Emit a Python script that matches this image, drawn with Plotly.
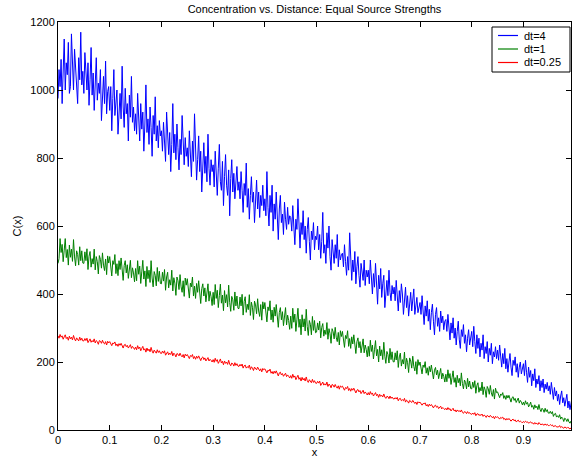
import plotly.graph_objects as go

# Sampling grid along x (shared by all three runs)
x_start = 0.0
x_step = 0.002

# Concentration profiles C(x) for three time steps
c_dt4 = [
    975, 1060, 1010, 1090, 960, 1035, 1150, 1000, 1080, 1045, 1140, 990, 1010, 1165, 1060, 1000, 1120, 1070, 1005, 960, 1095, 1030, 1170, 1015, 1055,
    990, 1110, 1040, 1000, 1080, 955, 1030, 1125, 985, 1050, 940, 1010, 1095, 970, 1020, 990, 1060, 910, 1000, 1040, 960, 1085, 930, 995, 1010,
    940, 1010, 880, 975, 1060, 925, 960, 1000, 870, 945, 990, 915, 1070, 950, 890, 1005, 930, 960, 850, 985, 920, 1040, 905, 950, 880,
    930, 870, 990, 905, 850, 960, 885, 935, 820, 900, 1015, 875, 915, 840, 950, 890, 805, 925, 870, 980, 850, 895, 830, 910, 865,
    880, 820, 905, 860, 790, 935, 845, 810, 875, 760, 840, 960, 815, 870, 795, 900, 830, 765, 855, 810, 925, 840, 780, 860, 805,
    830, 775, 880, 800, 745, 850, 790, 930, 810, 735, 795, 865, 760, 820, 700, 790, 845, 755, 805, 730, 870, 770, 720, 795, 760,
    780, 715, 820, 750, 690, 770, 840, 730, 705, 790, 660, 745, 810, 720, 690, 765, 630, 740, 795, 700, 755, 680, 735, 775, 705,
    730, 680, 760, 705, 640, 725, 690, 785, 655, 710, 620, 690, 745, 670, 700, 610, 680, 735, 650, 700, 625, 690, 660, 720, 645,
    680, 630, 760, 655, 600, 690, 640, 720, 585, 665, 620, 700, 640, 560, 650, 690, 610, 635, 575, 670, 620, 590, 655, 605, 630,
    625, 585, 660, 600, 545, 620, 590, 680, 570, 535, 610, 575, 645, 560, 600, 520, 590, 625, 555, 500, 585, 560, 610, 530, 570,
    560, 600, 530, 575, 505, 555, 640, 520, 545, 490, 580, 535, 600, 510, 470, 560, 525, 490, 545, 505, 575, 480, 530, 500, 515,
    520, 480, 545, 495, 455, 510, 470, 580, 490, 440, 500, 465, 525, 430, 480, 510, 455, 420, 490, 465, 440, 500, 425, 470, 450,
    470, 430, 500, 445, 400, 460, 420, 490, 440, 370, 455, 415, 475, 390, 430, 455, 360, 420, 440, 395, 470, 405, 380, 425, 400,
    420, 380, 440, 395, 350, 410, 375, 430, 400, 340, 390, 420, 360, 395, 335, 380, 405, 350, 375, 415, 340, 370, 390, 345, 365,
    375, 340, 395, 350, 310, 365, 335, 380, 320, 355, 295, 345, 370, 320, 280, 340, 360, 305, 330, 290, 350, 315, 335, 295, 320,
    325, 290, 340, 305, 265, 315, 285, 330, 270, 300, 250, 290, 320, 265, 240, 295, 275, 310, 255, 280, 230, 270, 295, 250, 265,
    290, 245, 305, 260, 225, 280, 240, 270, 215, 255, 235, 280, 210, 245, 225, 260, 200, 240, 220, 255, 195, 230, 215, 245, 210,
    235, 205, 250, 215, 185, 225, 195, 240, 180, 210, 170, 200, 225, 185, 160, 205, 190, 215, 170, 195, 155, 185, 200, 165, 180,
    195, 160, 205, 170, 140, 185, 155, 175, 130, 165, 145, 180, 125, 150, 135, 160, 115, 145, 125, 150, 110, 135, 120, 140, 115,
    130, 105, 140, 110, 90, 125, 100, 115, 85, 105, 75, 100, 115, 80, 95, 70, 90, 105, 65, 85, 60, 80, 95, 65, 75,
]

c_dt1 = [
    490, 504, 563, 522, 546, 495, 529, 563, 507, 531, 485, 544, 508, 532, 496, 560, 509, 483, 527, 516, 485, 539, 498, 527, 491,
    490, 524, 498, 533, 472, 511, 525, 479, 504, 488, 532, 471, 510, 495, 459, 513, 502, 476, 521, 485, 469, 503, 457, 512, 491,
    510, 474, 453, 498, 487, 516, 460, 489, 454, 498, 472, 506, 460, 440, 484, 498, 462, 486, 446, 475, 499, 448, 477, 462, 436,
    475, 439, 498, 458, 482, 431, 465, 499, 444, 468, 422, 481, 445, 470, 434, 498, 447, 421, 466, 455, 424, 478, 437, 467, 431,
    430, 464, 438, 472, 411, 450, 464, 418, 442, 426, 470, 409, 448, 432, 396, 450, 439, 413, 457, 421, 405, 439, 393, 447, 426,
    445, 409, 388, 432, 421, 450, 394, 423, 387, 431, 405, 439, 393, 372, 416, 430, 394, 418, 377, 406, 430, 379, 408, 392, 366,
    405, 369, 428, 387, 411, 360, 395, 429, 373, 397, 351, 410, 374, 398, 362, 426, 375, 349, 393, 383, 352, 406, 365, 394, 358,
    357, 391, 365, 399, 338, 378, 392, 346, 370, 354, 398, 337, 376, 361, 325, 379, 368, 342, 386, 350, 334, 369, 323, 377, 356,
    375, 339, 318, 362, 351, 380, 324, 353, 317, 361, 335, 369, 323, 302, 346, 360, 324, 348, 307, 336, 360, 309, 338, 322, 296,
    335, 299, 358, 317, 341, 290, 324, 358, 302, 326, 280, 339, 303, 327, 291, 355, 304, 278, 322, 311, 280, 334, 293, 322, 286,
    288, 315, 294, 320, 271, 302, 313, 276, 294, 281, 316, 267, 298, 284, 255, 298, 289, 268, 302, 273, 260, 287, 250, 292, 275,
    290, 261, 243, 278, 269, 292, 246, 269, 240, 274, 253, 280, 243, 225, 260, 271, 242, 260, 227, 250, 268, 227, 250, 237, 215,
    246, 217, 264, 231, 250, 209, 236, 263, 218, 237, 200, 247, 218, 236, 207, 258, 217, 196, 231, 222, 197, 240, 207, 230, 201,
    200, 227, 206, 233, 184, 215, 226, 188, 207, 194, 229, 180, 211, 198, 169, 212, 203, 182, 217, 187, 174, 201, 164, 207, 190,
    200, 178, 165, 191, 184, 201, 167, 183, 161, 187, 171, 191, 163, 150, 176, 184, 162, 176, 151, 167, 181, 150, 167, 157, 141,
    164, 142, 177, 152, 166, 134, 154, 174, 140, 154, 126, 161, 139, 152, 130, 168, 137, 121, 147, 140, 121, 152, 127, 144, 122,
    121, 141, 125, 145, 108, 131, 139, 111, 125, 115, 141, 104, 127, 118, 96, 128, 121, 105, 131, 109, 99, 119, 91, 123, 110,
    112, 101, 95, 106, 102, 110, 93, 101, 90, 102, 94, 102, 89, 82, 95, 98, 87, 93, 81, 88, 94, 79, 87, 82, 74,
    82, 73, 86, 76, 81, 68, 74, 82, 67, 72, 61, 74, 65, 70, 60, 75, 61, 54, 64, 60, 52, 64, 54, 60, 50,
    49, 55, 48, 54, 40, 47, 49, 38, 42, 37, 45, 32, 38, 34, 25, 35, 32, 25, 33, 24, 20, 26, 15, 25, 19,
]

c_dt025 = [
    277, 270, 281, 273, 277, 267, 274, 280, 269, 273, 264, 276, 268, 273, 265, 278, 268, 262, 271, 268, 262, 273, 264, 270, 262,
    262, 269, 263, 270, 257, 265, 268, 258, 263, 259, 268, 256, 263, 260, 252, 263, 261, 255, 264, 256, 253, 260, 250, 261, 256,
    260, 252, 248, 256, 254, 259, 248, 253, 246, 254, 249, 255, 246, 241, 250, 252, 245, 249, 241, 246, 251, 240, 246, 242, 237,
    244, 236, 248, 239, 244, 233, 240, 246, 235, 239, 229, 241, 233, 238, 230, 243, 232, 226, 235, 232, 226, 236, 228, 233, 226,
    225, 232, 226, 233, 220, 228, 230, 221, 226, 222, 231, 218, 226, 222, 215, 225, 223, 218, 226, 219, 215, 222, 212, 223, 218,
    222, 215, 210, 219, 216, 222, 210, 216, 208, 217, 211, 218, 208, 204, 212, 215, 207, 212, 203, 209, 213, 203, 208, 205, 200,
    207, 199, 211, 202, 207, 196, 202, 209, 197, 202, 192, 203, 196, 200, 193, 205, 194, 189, 197, 195, 188, 198, 190, 195, 188,
    187, 193, 188, 194, 182, 189, 191, 182, 186, 183, 191, 178, 186, 182, 175, 185, 182, 177, 185, 178, 174, 180, 171, 181, 177,
    180, 172, 168, 176, 173, 179, 167, 172, 165, 173, 167, 174, 164, 159, 168, 170, 162, 166, 158, 163, 167, 157, 162, 158, 153,
    160, 152, 164, 155, 159, 148, 155, 161, 149, 154, 144, 155, 147, 152, 144, 156, 145, 140, 148, 145, 139, 149, 140, 145, 138,
    137, 143, 138, 144, 131, 139, 141, 132, 136, 132, 141, 128, 135, 132, 124, 134, 132, 126, 134, 127, 123, 130, 120, 130, 126,
    129, 121, 117, 125, 122, 128, 116, 122, 114, 122, 117, 123, 113, 109, 117, 119, 112, 116, 107, 113, 117, 107, 112, 108, 103,
    110, 103, 113, 105, 109, 100, 105, 110, 101, 105, 96, 105, 99, 102, 97, 106, 97, 93, 99, 98, 92, 100, 93, 97, 92,
    91, 95, 91, 96, 86, 92, 93, 86, 89, 86, 93, 82, 88, 85, 79, 87, 85, 81, 87, 81, 78, 82, 75, 83, 80,
    82, 76, 73, 78, 77, 80, 71, 75, 69, 76, 71, 75, 69, 65, 71, 73, 67, 70, 63, 68, 70, 62, 66, 63, 60,
    64, 59, 66, 60, 63, 56, 60, 64, 56, 59, 53, 59, 55, 57, 53, 59, 52, 49, 54, 53, 48, 54, 49, 51, 47,
    46, 50, 46, 51, 42, 47, 48, 43, 45, 43, 47, 40, 44, 42, 37, 43, 41, 38, 43, 38, 36, 40, 33, 40, 37,
    39, 35, 32, 37, 35, 38, 31, 34, 29, 34, 30, 34, 28, 26, 30, 32, 27, 30, 24, 28, 29, 24, 26, 24, 21,
    25, 22, 26, 23, 24, 20, 22, 24, 20, 21, 17, 22, 18, 20, 16, 22, 18, 15, 18, 16, 14, 18, 14, 17, 13,
    13, 16, 13, 15, 10, 13, 13, 9, 10, 9, 13, 7, 10, 8, 5, 9, 8, 5, 8, 6, 3, 6, 2, 6, 3,
]

x_ticks = [0, 0.1, 0.2, 0.3, 0.4, 0.5, 0.6, 0.7, 0.8, 0.9]
x_tick_labels = ["0", "0.1", "0.2", "0.3", "0.4", "0.5", "0.6", "0.7", "0.8", "0.9"]
y_ticks = [0, 200, 400, 600, 800, 1000, 1200]

series = [
    ("dt=4", c_dt4, "#0000ff"),
    ("dt=1", c_dt1, "#008000"),
    ("dt=0.25", c_dt025, "#ff0000"),
]

FONT = "Liberation Sans, Arial, Helvetica, sans-serif"
W, H = 572, 460
M_L, M_R, M_T, M_B = 58, 1, 22, 30
PW, PH = W - M_L - M_R, H - M_T - M_B


def px_x(px):
    """Pixel column -> paper x."""
    return (px - M_L) / PW


def px_y(py):
    """Pixel row -> paper y."""
    return (H - M_B - py) / PH


fig = go.Figure()
for name, vals, color in series:
    fig.add_trace(go.Scatter(
        x0=x_start, dx=x_step, y=vals, mode="lines", name=name,
        line=dict(color=color, width=1), showlegend=False,
    ))

# Boxed legend in the upper-right corner
shapes = [dict(
    type="rect", xref="paper", yref="paper",
    x0=px_x(492), x1=px_x(570), y0=px_y(72), y1=px_y(27),
    fillcolor="white", line=dict(color="black", width=1), layer="above",
)]
annotations = []
for i, (name, _, color) in enumerate(series):
    row = 35.5 + 13.5 * i
    shapes.append(dict(
        type="line", xref="paper", yref="paper",
        x0=px_x(498), x1=px_x(518), y0=px_y(row), y1=px_y(row),
        line=dict(color=color, width=1.2), layer="above",
    ))
    annotations.append(dict(
        xref="paper", yref="paper", x=px_x(522), y=px_y(row),
        xanchor="left", yanchor="middle", text=name, showarrow=False,
        font=dict(family=FONT, size=11, color="black"),
    ))

axis_common = dict(
    showline=True, linecolor="black", linewidth=1, mirror="ticks",
    ticks="inside", ticklen=5, tickcolor="black", tickwidth=1,
    showgrid=False, zeroline=False,
    tickfont=dict(family=FONT, size=11, color="black"),
)

fig.update_layout(
    width=W, height=H,
    margin=dict(l=M_L, r=M_R, t=M_T, b=M_B),
    paper_bgcolor="white", plot_bgcolor="white",
    font=dict(family=FONT, size=11, color="black"),
    title=dict(
        text="Concentration vs. Distance: Equal Source Strengths",
        x=0.5, xref="paper", xanchor="center",
        y=1 - 9 / H, yref="container", yanchor="middle",
        font=dict(family=FONT, size=11, color="black"),
    ),
    xaxis=dict(
        range=[0, 0.992], tickvals=x_ticks, ticktext=x_tick_labels,
        title=dict(text="x", standoff=2, font=dict(family=FONT, size=11)),
        **axis_common,
    ),
    yaxis=dict(
        range=[0, 1200], tickvals=y_ticks,
        title=dict(text="C(x)", standoff=6, font=dict(family=FONT, size=11)),
        **axis_common,
    ),
    shapes=shapes,
    annotations=annotations,
    showlegend=False,
)

fig.write_html("out.html")
